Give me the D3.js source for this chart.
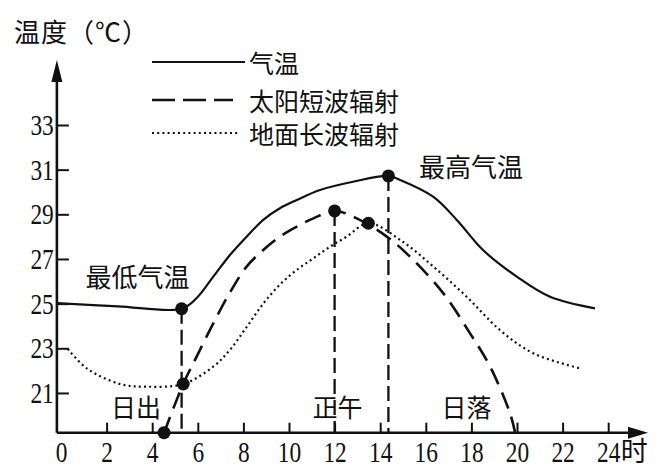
<!DOCTYPE html>
<html>
<head>
<meta charset="utf-8">
<script src="https://cdn.jsdelivr.net/npm/d3@7"></script>
<style>
  body { margin: 0; background: #fff; }
  .cjk { font-family: "Noto Sans CJK SC", sans-serif; fill: #111; }
  .num { font-family: "Liberation Serif", serif; fill: #111; }
</style>
</head>
<body>
<svg id="chart" width="669" height="473"></svg>
<script>
// data (hour of day, temperature in C)
const airHour  = [-0.18, 2.5, 5.29, 5.95, 6.68, 7.41, 8.14, 8.87, 9.6, 10.34, 11.36, 12.81, 14.36, 14.87, 16.32, 17.36, 18.51, 19.99, 21.45, 23.42];
const airTemp  = [25.02, 24.88, 24.77, 25.25, 26.21, 27.18, 28.0, 28.75, 29.27, 29.64, 30.09, 30.46, 30.72, 30.54, 29.79, 28.75, 27.4, 26.21, 25.31, 24.79];

const solarHour = [4.52, 5.36, 5.95, 6.68, 7.41, 8.14, 8.87, 9.6, 10.34, 11.07, 12, 12.97, 14.29, 15.31, 16.77, 17.94, 18.82, 19.69, 19.91];
const solarTemp = [19.22, 21.4, 22.63, 24.12, 25.5, 26.66, 27.4, 28.0, 28.45, 28.82, 29.15, 28.82, 28.0, 27.1, 25.46, 23.67, 22.18, 20.1, 19.25];

const groundHour = [0.3, 1.13, 2.59, 3.76, 5.36, 6.68, 7.41, 8.14, 8.87, 9.6, 10.34, 11.07, 11.8, 12.53, 13.48, 14.95, 16.33, 17.79, 19.25, 20.71, 22.76];
const groundTemp = [22.97, 22.1, 21.4, 21.28, 21.4, 22.18, 22.93, 23.95, 25.0, 25.85, 26.51, 27.03, 27.55, 28.0, 28.6, 27.8, 26.66, 25.31, 23.82, 22.78, 22.1];

// black dots
const dotHour = [5.29, 5.36, 4.52, 12, 13.48, 14.36];
const dotTemp = [24.77, 21.4, 19.22, 29.15, 28.6, 30.72];

// dashed drop lines: lowest temp, noon, highest temp
const guideHour = [5.29, 12, 14.36];
const guideTemp = [24.77, 29.15, 30.72];

const xTicks = [0, 2, 4, 6, 8, 10, 12, 14, 16, 18, 20, 22, 24];
const yTicks = [21, 23, 25, 27, 29, 31, 33];
const legendNames = ['气温', '太阳短波辐射', '地面长波辐射'];

const svg = d3.select('#chart');
const xMin = -0.18, yMin = 19.22;

let x = d3.scaleLinear().domain([0, 24]).range([61, 608.2]);
let y = d3.scaleLinear().domain([yMin, 33]).range([432.7, 125]);

const x0 = x(xMin), yBase = y(yMin);
const ink = '#111';

// axes lines with arrow heads
svg.append('line').attr('x1', x0).attr('y1', yBase).attr('x2', 630).attr('y2', yBase)
    .attr('stroke', ink).attr('stroke-width', 2.6);
svg.append('path').attr('d', `M628,${yBase - 6}L648,${yBase}L628,${yBase + 6}Z`).attr('fill', ink);
svg.append('line').attr('x1', x0).attr('y1', yBase).attr('x2', x0).attr('y2', 78)
    .attr('stroke', ink).attr('stroke-width', 2.6);
svg.append('path').attr('d', `M${x0 - 5.5},82L${x0},60L${x0 + 5.5},82Z`).attr('fill', ink);

// x axis ticks (point up, labels below)
let xAxis = svg.append('g').attr('transform', `translate(0,${yBase})`)
    .call(d3.axisBottom(x).tickValues(xTicks).tickSizeInner(-10).tickSizeOuter(0).tickPadding(8));
xAxis.select('.domain').remove();
xAxis.selectAll('.tick line').attr('stroke', ink).attr('stroke-width', 2)
    .filter(d => d === 0).remove();
xAxis.selectAll('.tick text').attr('class', 'num').attr('font-size', 30)
    .attr('transform', 'scale(0.78,1)');
xAxis.selectAll('.tick').filter(d => d === 24).append('text')
    .attr('class', 'cjk').attr('text-anchor', 'start')
    .attr('x', 12).attr('y', 19).attr('dy', '0.35em')
    .attr('font-size', 27).text('时');

// y axis ticks (point right, labels left)
let yAxis = svg.append('g').attr('transform', `translate(${x0},0)`)
    .call(d3.axisLeft(y).tickValues(yTicks).tickSizeInner(-12).tickSizeOuter(0).tickPadding(4));
yAxis.select('.domain').remove();
yAxis.selectAll('.tick line').attr('stroke', ink).attr('stroke-width', 2);
yAxis.selectAll('.tick text').attr('class', 'num').attr('font-size', 30)
    .attr('transform', 'scale(0.78,1)');

svg.selectAll('.tick text').attr('font-family', null);

// title
svg.append('text').attr('class', 'cjk').attr('x', 14).attr('y', 33).attr('dy', '0.35em')
    .attr('font-size', 26).attr('letter-spacing', 1).text('温度（℃）');

// curves
const line = d3.line().x(d => x(d[0])).y(d => y(d[1])).curve(d3.curveCatmullRom.alpha(0.5));
const styles = [
    {stroke: 2.2, dash: null},
    {stroke: 2.6, dash: '17,9'},
    {stroke: 2.2, dash: '2,3.2'},
];
const series = [
    d3.zip(airHour, airTemp),
    d3.zip(solarHour, solarTemp),
    d3.zip(groundHour, groundTemp),
];

// vertical dashed guides
svg.selectAll('.guide').data(d3.zip(guideHour, guideTemp)).enter()
    .append('line').attr('class', 'guide')
    .attr('x1', d => x(d[0])).attr('x2', d => x(d[0]))
    .attr('y1', d => y(d[1])).attr('y2', yBase)
    .attr('stroke', ink).attr('stroke-width', 2.3).attr('stroke-dasharray', '15,6');

svg.selectAll('.series').data(series).enter()
    .append('path').attr('class', 'series')
    .attr('d', line)
    .attr('fill', 'none').attr('stroke', ink)
    .attr('stroke-width', (d, i) => styles[i].stroke)
    .attr('stroke-dasharray', (d, i) => styles[i].dash);

// dots
svg.selectAll('.dot').data(d3.zip(dotHour, dotTemp)).enter()
    .append('circle').attr('class', 'dot')
    .attr('cx', d => x(d[0])).attr('cy', d => y(d[1])).attr('r', 6.5).attr('fill', ink);

// legend
const legendY = [62, 100, 133];
const legendEnd = [245, 233, 238];
let legend = svg.selectAll('.legend').data(legendNames).enter()
    .append('g').attr('class', 'legend');
legend.append('line')
    .attr('x1', 152).attr('x2', (d, i) => legendEnd[i])
    .attr('y1', (d, i) => legendY[i]).attr('y2', (d, i) => legendY[i])
    .attr('stroke', ink)
    .attr('stroke-width', (d, i) => styles[i].stroke)
    .attr('stroke-dasharray', (d, i) => i === 1 ? '23,8' : styles[i].dash);
legend.append('text').attr('class', 'cjk')
    .attr('x', 249).attr('y', (d, i) => legendY[i] + 2).attr('dy', '0.35em')
    .attr('font-size', 25).text(d => d);

// annotations
const notes = [
    ['最低气温', 3.36, 26.15, 26],
    ['最高气温', 17.98, 31.1, 26],
    ['日出', 3.29, 20.33, 25],
    ['正午', 12.13, 20.33, 25],
    ['日落', 17.79, 20.33, 25],
];
svg.selectAll('.note').data(notes).enter()
    .append('text').attr('class', 'cjk note')
    .attr('x', d => x(d[1])).attr('y', d => y(d[2])).attr('dy', '0.35em')
    .attr('text-anchor', 'middle').attr('font-size', d => d[3]).text(d => d[0]);
</script>
</body>
</html>
